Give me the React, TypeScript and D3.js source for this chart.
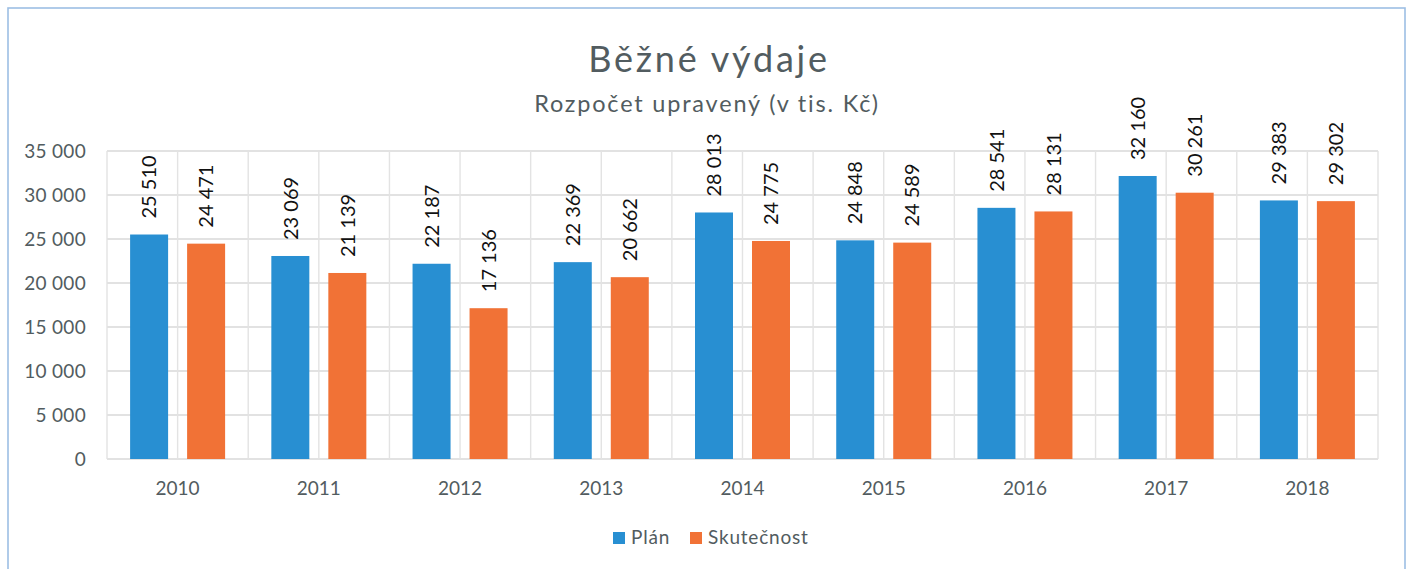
import React from "react";
import * as d3 from "d3";

const years = ["2010", "2011", "2012", "2013", "2014", "2015", "2016", "2017", "2018"];
const plan = [25510, 23069, 22187, 22369, 28013, 24848, 28541, 32160, 29383];
const skutecnost = [24471, 21139, 17136, 20662, 24775, 24589, 28131, 30261, 29302];
const yTicks = [0, 5000, 10000, 15000, 20000, 25000, 30000, 35000];
const seriesNames = ["Plán", "Skutečnost"];
const colors = ["#288FD2", "#F17236"];

const W = 1407;
const H = 569;
const plot = { left: 107, right: 1378, top: 151, bottom: 459 };
const FONT = "Lato, 'Open Sans', sans-serif";
const TEXT = "#525c60";

const fmt = (v: number) => d3.format(",")(v).replace(/,/g, " ");

export default function App() {
  const x = d3.scaleBand<string>().domain(years).range([plot.left, plot.right]).padding(0);
  const y = d3.scaleLinear().domain([0, 35000]).range([plot.bottom, plot.top]);
  const bw = x.bandwidth();
  const barW = 38;
  const offs = [-28.5, 28.5];
  const series = [plan, skutecnost];

  const vLines: number[] = [];
  years.forEach((yr) => {
    const x0 = x(yr)!;
    vLines.push(x0, x0 + bw / 2);
  });
  vLines.push(plot.right);

  return (
    <svg
      width={W}
      height={H}
      style={{ position: "absolute", left: 0, top: 0, background: "#fff" }}
      fontFamily={FONT}
    >
      <rect x={8} y={8} width={1397} height={620} fill="#fff" stroke="#9dbfe4" strokeWidth={1.6} />
      <text x={709} y={72} textAnchor="middle" fontSize={36} letterSpacing={2.8} fill={TEXT}>
        Běžné výdaje
      </text>
      <text x={707} y={112} textAnchor="middle" fontSize={23.5} letterSpacing={1.8} fill={TEXT}>
        Rozpočet upravený (v tis. Kč)
      </text>

      {yTicks.map((t) => (
        <g key={t}>
          <line x1={plot.left} x2={plot.right} y1={y(t)} y2={y(t)} stroke="#d9d9d9" strokeWidth={1.4} />
          <text x={86} y={y(t)} dy="0.35em" textAnchor="end" fontSize={19} letterSpacing={0.3} fill={TEXT}>
            {fmt(t)}
          </text>
        </g>
      ))}
      {vLines.map((vx, i) => (
        <line key={i} x1={vx} x2={vx} y1={plot.top} y2={plot.bottom} stroke="#e3e3e3" strokeWidth={1.4} />
      ))}

      {series.map((vals, si) =>
        vals.map((v, i) => {
          const cx = x(years[i])! + bw / 2 + offs[si];
          const top = y(v);
          return (
            <g key={`${si}-${i}`}>
              <rect x={cx - barW / 2} y={top} width={barW} height={plot.bottom - top} fill={colors[si]} />
              <text
                transform={`translate(${cx},${top - 16}) rotate(-90)`}
                dy="0.36em"
                textAnchor="start"
                fontSize={20}
                fill="#111"
              >
                {fmt(v)}
              </text>
            </g>
          );
        })
      )}

      {years.map((yr) => (
        <text key={yr} x={x(yr)! + bw / 2} y={488} dy="0.35em" textAnchor="middle" fontSize={19} fill={TEXT}>
          {yr}
        </text>
      ))}

      <g>
        <rect x={613} y={532} width={12} height={12} fill={colors[0]} />
        <text x={631} y={544} fontSize={19} letterSpacing={0.8} fill={TEXT}>
          {seriesNames[0]}
        </text>
        <rect x={690} y={532} width={12} height={12} fill={colors[1]} />
        <text x={708} y={544} fontSize={19} letterSpacing={0.8} fill={TEXT}>
          {seriesNames[1]}
        </text>
      </g>
    </svg>
  );
}
